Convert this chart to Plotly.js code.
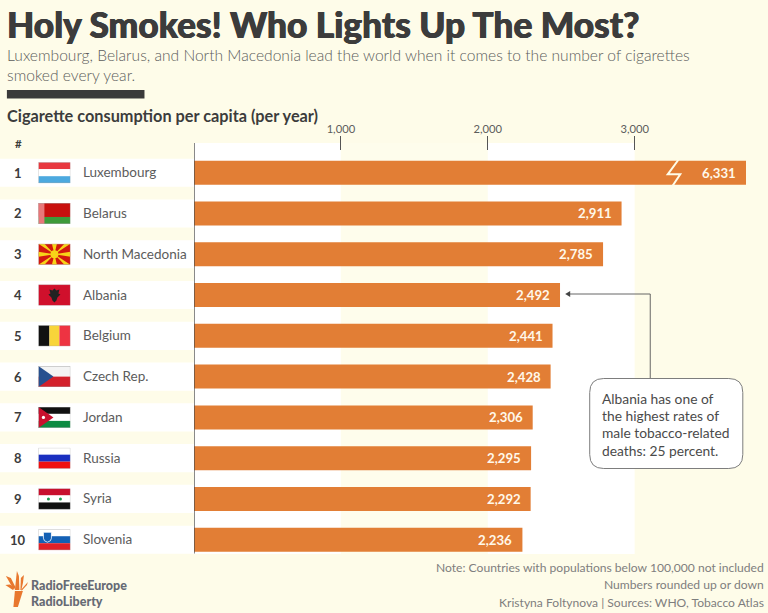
<!DOCTYPE html>
<html>
<head>
<meta charset="utf-8">
<script src="https://cdn.plot.ly/plotly-3.0.1.min.js"></script>
<style>html,body{margin:0;padding:0;background:#fefce9}#chart{width:768px;height:613px}</style>
</head>
<body>
<div id="chart"></div>
<script>
var countries = ["Luxembourg","Belarus","North Macedonia","Albania","Belgium","Czech Rep.","Jordan","Russia","Syria","Slovenia"];
var consumption = [6331,2911,2785,2492,2441,2428,2306,2295,2292,2236];
var ranks = [1,2,3,4,5,6,7,8,9,10];
var axisTicks = [1000,2000,3000];
var axisTickLabels = ["1,000","2,000","3,000"];
var titleText = "Holy Smokes! Who Lights Up The Most?";
var subtitleLines = ["Luxembourg, Belarus, and North Macedonia lead the world when it comes to the number of cigarettes","smoked every year."];
var axisHeading = "Cigarette consumption per capita (per year)";
var calloutLines = ["Albania has one of","the highest rates of","male tobacco-related","deaths: 25 percent."];
var footerLines = ["Note: Countries with populations below 100,000 not included","Numbers rounded up or down","Kristyna Foltynova | Sources: WHO, Tobacco Atlas"];

var W=768,H=613,L=194,R=745.7,T=151,B=554;
var xMax=(R-L)/0.1468;
var FONT='Lato, "Noto Sans", sans-serif';
var TXT='#3c3c3c',GREY='#5c5c5c',LIGHT='#7e7e7e',BAR='#e27e35',BG='#fefce9';
function px(x){return (x-L)/(R-L);}
function py(y){return (B-y)/(B-T);}
function svgUri(w,h,body){return 'data:image/svg+xml;utf8,'+encodeURIComponent('<svg xmlns="http://www.w3.org/2000/svg" viewBox="0 0 '+w+' '+h+'" width="'+w*4+'" height="'+h*4+'" preserveAspectRatio="none">'+body+'<rect x=".25" y=".25" width="'+(w-.5)+'" height="'+(h-.5)+'" fill="none" stroke="#a8a8a8" stroke-width=".5"/></svg>');}
function r(x,y,w,h,c){return '<rect x="'+x+'" y="'+y+'" width="'+w+'" height="'+h+'" fill="'+c+'"/>';}
var flags=[
 r(0,0,32,7,'#e8383f')+r(0,7,32,7,'#ffffff')+r(0,14,32,7,'#4ca9df'),
 r(0,0,32,14,'#c8100f')+r(0,14,32,7,'#3e9a3a')+r(0,0,6,21,'#e8777a'),
 r(0,0,32,21,'#d2180f')+'<g fill="#f7d318"><path d="M0 0L6 0L16 10.5Z"/><path d="M32 0L26 0L16 10.5Z"/><path d="M0 21L6 21L16 10.5Z"/><path d="M32 21L26 21L16 10.5Z"/><path d="M13.5 0L18.5 0L16 10.5Z"/><path d="M13.5 21L18.5 21L16 10.5Z"/><path d="M0 8L0 13L16 10.5Z"/><path d="M32 8L32 13L16 10.5Z"/><circle cx="16" cy="10.5" r="4"/></g>',
 r(0,0,32,21,'#d0102c')+'<path d="M16 4L18 6L21 5L20 9L22 10L19 13L18 16L16 18L14 16L13 13L10 10L12 9L11 5L14 6Z" fill="#222"/>',
 r(0,0,11,21,'#111111')+r(11,0,10,21,'#f8d53a')+r(21,0,11,21,'#ee3342'),
 r(0,0,32,10.5,'#f4f4f4')+r(0,10.5,32,10.5,'#d3212c')+'<path d="M0 0L15 10.5L0 21Z" fill="#27508f"/>',
 r(0,0,32,7,'#111111')+r(0,7,32,7,'#ffffff')+r(0,14,32,7,'#0c8a42')+'<path d="M0 0L15 10.5L0 21Z" fill="#c8102e"/><circle cx="5" cy="10.5" r="1.6" fill="#fff"/>',
 r(0,0,32,7,'#ffffff')+r(0,7,32,7,'#1a2fc0')+r(0,14,32,7,'#f01010'),
 r(0,0,32,7,'#c8102e')+r(0,7,32,7,'#ffffff')+r(0,14,32,7,'#111111')+'<circle cx="10" cy="10.5" r="1.5" fill="#1f9a50"/><circle cx="22" cy="10.5" r="1.5" fill="#1f9a50"/>',
 r(0,0,32,7,'#ffffff')+r(0,7,32,7,'#1360b5')+r(0,14,32,7,'#e02028')+'<path d="M5 3H13V9Q13 12 9 13Q5 12 5 9Z" fill="#1360b5" stroke="#fff" stroke-width=".8"/>'
];

var annotations=[],shapes=[],images=[];
function fnt(size,color,weight,shadow){var f={family:FONT,size:size,color:color};if(weight){f.weight=weight;}if(shadow){f.shadow=shadow;}return f;}
function note(text,x,y,font,anchor){
  annotations.push({text:text,x:px(x),y:py(y),xref:'paper',yref:'paper',xanchor:anchor||'left',yanchor:'middle',showarrow:false,align:anchor||'left',borderpad:0,borderwidth:0,font:font});
}
note(titleText,7.5,25,fnt(35.3,TXT,900,'0.5px 0 0 #3c3c3c, -0.4px 0 0 #3c3c3c'));
note(subtitleLines[0],7.5,55,fnt(15.6,GREY,300));
note(subtitleLines[1],7.5,75,fnt(15.6,GREY,300));
note(axisHeading,7.5,115,fnt(16.3,TXT,700));
note('#',18.5,143.5,fnt(11.5,TXT,700),'center');
calloutLines.forEach(function(t,i){note(t,602,398+17.4*i,fnt(13.8,'#4a4a4a'));});
footerLines.forEach(function(t,i){note(t,763.5,567.5+17.3*i,fnt(12.1,LIGHT),'right');});
note('RadioFreeEurope',31.5,585.6,fnt(12.5,'#666a74',900));
note('RadioLiberty',31.5,601.4,fnt(12.5,'#666a74',900));

[[0,1000,'#ffffff'],[1000,2000,'#fefdec'],[2000,3000,'#ffffff']].forEach(function(c){
  shapes.push({type:'rect',layer:'below',xref:'x',yref:'paper',x0:c[0],x1:c[1],y0:0,y1:py(143),fillcolor:c[2],line:{width:0}});
});
countries.forEach(function(name,i){
  shapes.push({type:'rect',layer:'below',xref:'paper',yref:'y',x0:px(0),x1:0,y0:i-0.345,y1:i+0.345,fillcolor:'#ffffff',line:{width:0}});
  annotations.push({text:String(ranks[i]),xref:'paper',yref:'y',x:px(18.5),y:i,xanchor:'center',yanchor:'middle',showarrow:false,borderpad:0,font:fnt(13,TXT,700)});
  annotations.push({text:name,xref:'paper',yref:'y',x:px(82),y:i,xanchor:'left',yanchor:'middle',yshift:0.5,showarrow:false,borderpad:0,font:fnt(13.5,GREY)});
  var shown=Math.min(consumption[i],xMax);
  annotations.push({text:consumption[i].toLocaleString('en-US'),xref:'x',yref:'y',x:shown,y:i,xanchor:'right',xshift:-9,yanchor:'middle',showarrow:false,borderpad:0,font:fnt(13.2,'#fff8ea',700)});
  images.push({source:svgUri(32,21,flags[i]),xref:'paper',yref:'y',x:px(38.5),y:i,sizex:32/(R-L),sizey:21/40.78,xanchor:'left',yanchor:'middle',sizing:'stretch',layer:'above'});
});

shapes.push({type:'line',xref:'x',yref:'paper',x0:0,x1:0,y0:py(553.5),y1:py(143),line:{color:'#4a4a4a',width:1.3},layer:'above'});
shapes.push({type:'path',xref:'paper',yref:'paper',layer:'above',
  path:'M'+px(678)+' '+py(160)+'L'+px(667.5)+' '+py(174.3)+'L'+px(680)+' '+py(174.3)+'L'+px(672.5)+' '+py(185.5),
  line:{color:BG,width:2}});
shapes.push({type:'path',xref:'paper',yref:'paper',layer:'above',
  path:'M'+px(650)+' '+py(378)+'L'+px(650)+' '+py(294)+'L'+px(567)+' '+py(294),line:{color:'#555',width:0.9}});
shapes.push({type:'path',xref:'paper',yref:'paper',layer:'above',
  path:'M'+px(565)+' '+py(294)+'L'+px(570)+' '+py(291)+'L'+px(570)+' '+py(297)+'Z',fillcolor:'#444',line:{width:0}});
var bx0=589.5,bx1=742.5,by0=378.5,by1=468.5,rad=14;
shapes.push({type:'path',xref:'paper',yref:'paper',layer:'above',fillcolor:'#ffffff',line:{color:'#7d7d7d',width:1},
  path:'M'+px(bx0+rad)+' '+py(by0)+'L'+px(bx1-rad)+' '+py(by0)+'Q'+px(bx1)+' '+py(by0)+' '+px(bx1)+' '+py(by0+rad)+'L'+px(bx1)+' '+py(by1-rad)+'Q'+px(bx1)+' '+py(by1)+' '+px(bx1-rad)+' '+py(by1)+'L'+px(bx0+rad)+' '+py(by1)+'Q'+px(bx0)+' '+py(by1)+' '+px(bx0)+' '+py(by1-rad)+'L'+px(bx0)+' '+py(by0+rad)+'Q'+px(bx0)+' '+py(by0)+' '+px(bx0+rad)+' '+py(by0)+'Z'});
shapes.push({type:'rect',xref:'paper',yref:'paper',x0:px(7),x1:px(144.5),y0:py(98.5),y1:py(90),fillcolor:'#3a3a3a',line:{width:0}});
var logo='<g fill="#e8782f"><path d="M10 21L18 21L13 37L8.5 37Z"/><path d="M10 20L12 1L14 6L14.5 20Z"/><path d="M9 20L1 6L6 8L10.5 17Z"/><path d="M15.5 20L16 8L19 5L18 13L16.5 20Z"/><path d="M16 20L23 12L22 15L17 20.5Z"/><path d="M8 20L0.5 15L5 14.5L9 17Z"/></g>';
images.push({source:'data:image/svg+xml;utf8,'+encodeURIComponent('<svg xmlns="http://www.w3.org/2000/svg" viewBox="0 0 24 38" width="96" height="152">'+logo+'</svg>'),xref:'paper',yref:'paper',x:px(5),y:py(570),sizex:24/(R-L),sizey:38/(B-T),xanchor:'left',yanchor:'top',sizing:'stretch',layer:'above'});

var bars={type:'bar',orientation:'h',x:consumption,y:countries,marker:{color:BAR,line:{width:0}},hoverinfo:'skip',showlegend:false};
var layout={
  width:W,height:H,autosize:false,
  margin:{l:L,r:W-R,t:T,b:H-B,pad:0},
  paper_bgcolor:BG,plot_bgcolor:'rgba(0,0,0,0)',
  bargap:1-24/40.78,
  showlegend:false,
  xaxis:{side:'top',range:[0,xMax],tickvals:axisTicks,ticktext:axisTickLabels,ticks:'outside',ticklen:14,tickwidth:1,tickcolor:'#555',ticklabelstandoff:-1,showgrid:false,zeroline:false,showline:false,tickfont:{family:FONT,size:11.2,color:GREY},fixedrange:true},
  yaxis:{type:'category',categoryorder:'array',categoryarray:countries,range:[(B-172.7)/40.78,(T-172.7)/40.78],showticklabels:false,ticks:'',showgrid:false,zeroline:false,showline:false,fixedrange:true},
  annotations:annotations,shapes:shapes,images:images
};
Plotly.newPlot('chart',[bars],layout,{displayModeBar:false,staticPlot:true});
</script>
</body>
</html>
